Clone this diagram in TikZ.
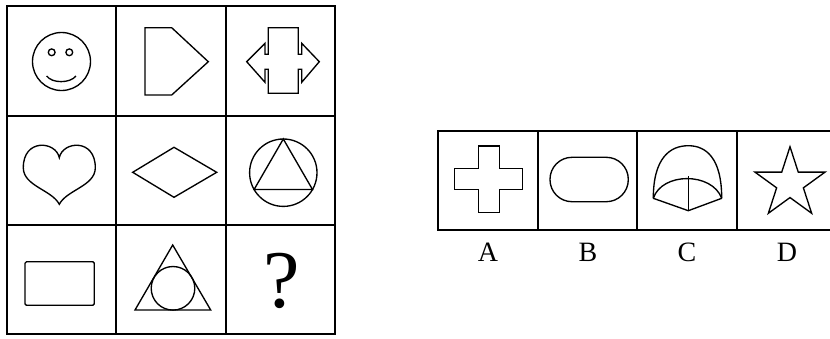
\documentclass[tikz,border=0pt]{standalone}
\usepackage{fontspec}
\setmainfont{Liberation Serif}

\begin{document}
\begin{tikzpicture}[
x=1pt, y=-1pt,
grid/.style={line width=2pt},
figline/.style={line width=1.35pt, line join=miter},
letter/.style={anchor=base, inner sep=0pt, font=\fontsize{28}{28}\selectfont}
]
\useasboundingbox (0,0) rectangle (830,338);

% left 3x3 grid
\draw[grid] (7,6) rectangle (335,334);
\foreach \x in {116,226} \draw[grid] (\x,6) -- (\x,334);
\foreach \y in {116,225} \draw[grid] (7,\y) -- (335,\y);

% row 1
\draw[figline] (61.5,61.5) circle (29);
\draw[figline] (51.7,52.3) circle (3.4);
\draw[figline] (69.3,52.3) circle (3.4);
\draw[figline] (46.7,76) .. controls (52,83.5) and (70,83.5) .. (76,76);

\draw[figline] (145,27.7) -- (171.7,27.7) -- (208.3,61.7) -- (171.7,95) -- (145,95) -- cycle;

\draw[figline] (268.3,27.7) -- (268.3,54.3) -- (265,54.3) -- (265,43.3) -- (246.7,61.7)
  -- (265,82.3) -- (265,69.3) -- (268.3,69.3) -- (268.3,93.3) -- (298.3,93.3)
  -- (298.3,69.3) -- (301.7,69.3) -- (301.7,82.3) -- (319.3,61.7) -- (301.7,43.3)
  -- (301.7,54.3) -- (298.3,54.3) -- (298.3,27.7) -- cycle;

% row 2
\draw[figline] (59.3,157.7) .. controls (56,141) and (23,138) .. (23.3,168)
  .. controls (23.5,186) and (52,190) .. (59.3,204.3)
  .. controls (66.6,190) and (95.1,186) .. (95.3,168)
  .. controls (95.6,138) and (62.6,141) .. cycle;

\draw[figline] (132.7,172.3) -- (174,147.3) -- (216.7,172.3) -- (174,197.3) -- cycle;

\draw[figline] (283.3,172.7) circle (33.7);
\draw[figline] (283.3,139) -- (254.1,189.5) -- (312.5,189.5) -- cycle;

% row 3
\draw[figline, rounded corners=1.5pt] (25,261.7) rectangle (94.3,305.3);

\draw[figline] (172.7,245) -- (135,310) -- (210.7,310) -- cycle;
\draw[figline] (173,288.3) circle (21.8);

\node[anchor=base, inner sep=0pt, font=\fontsize{82}{82}\selectfont] (qmark) at (281.7,307) {?};

% options A-D
\draw[grid] (830,131) -- (438,131) -- (438,230) -- (830,230);
\foreach \x in {538,637,737} \draw[grid] (\x,131) -- (\x,230);

\draw[figline] (478.3,146) -- (499.3,146) -- (499.3,168.3) -- (522.7,168.3) -- (522.7,189.3)
  -- (499.3,189.3) -- (499.3,212.7) -- (478.3,212.7) -- (478.3,189.3) -- (454.3,189.3)
  -- (454.3,168.3) -- (478.3,168.3) -- cycle;

\draw[figline, rounded corners=22pt] (550,157.3) rectangle (628.3,201.7);

\draw[figline] (653.3,198.3) .. controls (653.3,158) and (670,145.7) .. (688.3,145.7)
  .. controls (706,145.7) and (721.7,158) .. (721.7,198.3);
\draw[figline] (653.3,198.3) .. controls (662,172) and (712,172) .. (721.7,198.3);
\draw[figline] (688.3,176) -- (688.3,210.7);
\draw[figline] (653.3,198.3) -- (688.3,210.7) -- (721.7,198.3);

\draw[figline, shift={(790,183.5)}] (-90:36.8) -- (-54:14.06) -- (-18:36.8) -- (18:14.06)
  -- (54:36.8) -- (90:14.06) -- (126:36.8) -- (162:14.06) -- (198:36.8) -- (234:14.06) -- cycle;

\node[letter] (optA) at (488,261) {A};
\node[letter] (optB) at (588,261) {B};
\node[letter] (optC) at (687,261) {C};
\node[letter] (optD) at (787,261) {D};

\end{tikzpicture}
\end{document}
